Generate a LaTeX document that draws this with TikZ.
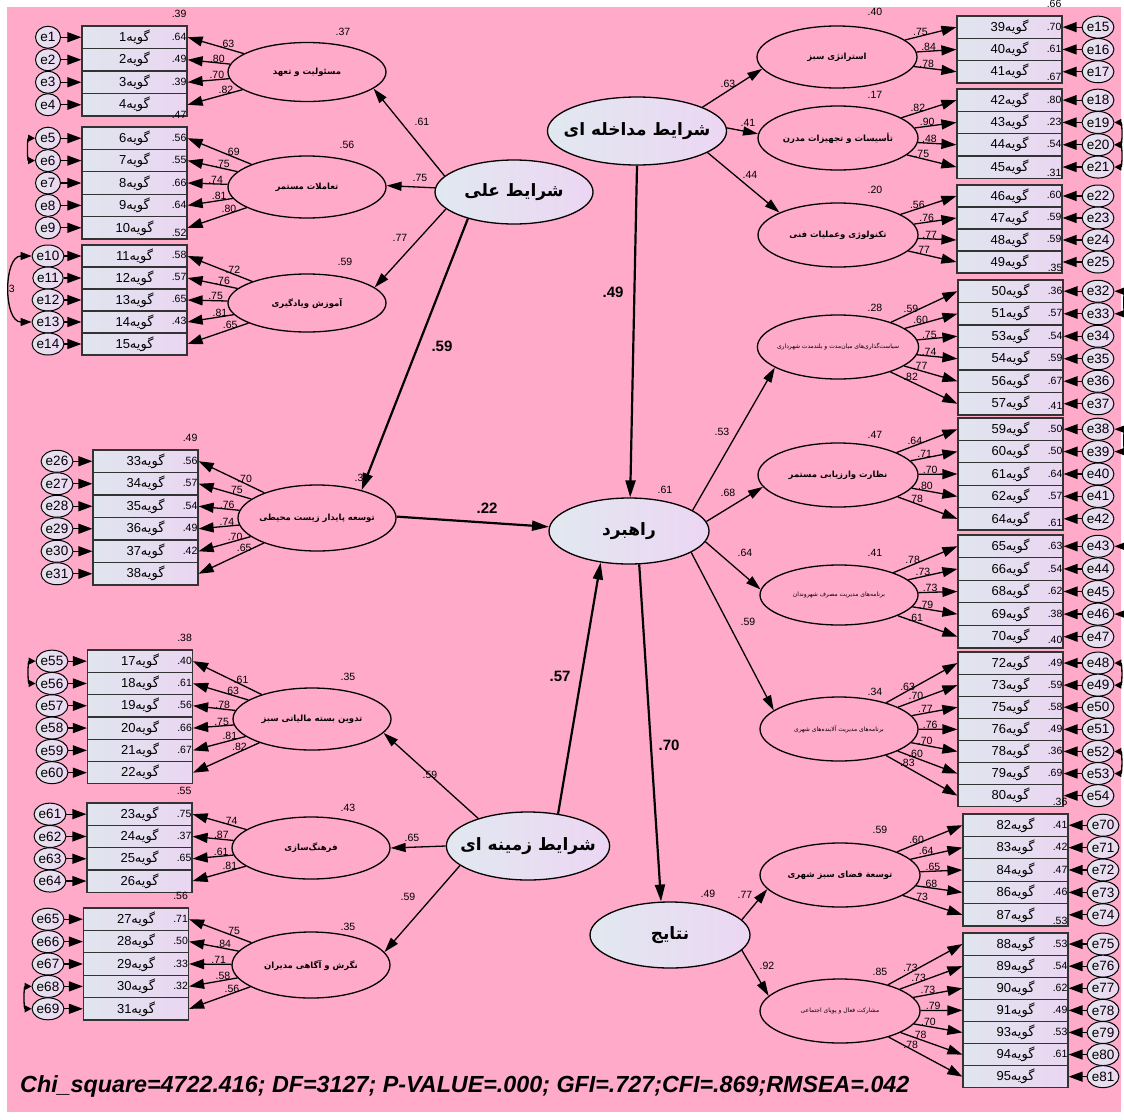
\documentclass[tikz,border=0pt]{standalone}
\usepackage{fontspec}
\setmainfont{Liberation Sans}
\newfontfamily\arabicfont[Script=Arabic]{DejaVu Sans}
\TeXXeTstate=1
\usetikzlibrary{shapes.geometric,arrows.meta}
\definecolor{pinkbg}{RGB}{255,170,201}
\definecolor{boxL}{RGB}{224,229,238}
\definecolor{boxR}{RGB}{234,214,242}
\definecolor{errL}{RGB}{228,228,238}
\definecolor{errR}{RGB}{236,214,242}
\definecolor{mainL}{RGB}{225,232,240}
\definecolor{mainR}{RGB}{236,214,243}
\newcommand\gw[1]{#1{\arabicfont\beginR گویه\endR}}
\newcommand\fa[1]{{\arabicfont\beginR #1\endR}}
\tikzset{
  every node/.style={inner sep=0pt},
  box/.style={draw=black!80, line width=1.2pt, rectangle, minimum width=105pt, minimum height=22.4pt, left color=boxL, right color=boxR, font=\fontsize{13}{15}\selectfont},
  err/.style={draw, ellipse, line width=1pt, minimum width=25pt, minimum height=22pt, left color=errL, right color=errR, font=\fontsize{13.5}{15}\selectfont},
  fac/.style={draw, ellipse, line width=1.3pt, fill=pinkbg, inner sep=-4pt, font=\bfseries\fontsize{8.5}{10}\selectfont},
  facs/.style={draw, ellipse, line width=1.3pt, fill=pinkbg, inner sep=-4pt, font=\fontsize{6}{7}\selectfont},
  mainell/.style={draw, ellipse, line width=1.3pt, inner sep=-10pt, left color=mainL, right color=mainR, font=\bfseries\fontsize{17}{20}\selectfont},
  earr/.style={line width=1.3pt, -{Triangle[length=14pt,width=10pt]}},
  larr/.style={line width=1.3pt, -{Triangle[length=15pt,width=10pt]}},
  parr/.style={line width=1.3pt, -{Triangle[length=15pt,width=9pt]}},
  tarr/.style={line width=2.2pt, -{Triangle[length=17pt,width=10pt]}},
  cov/.style={line width=1.3pt, {Triangle[length=11pt,width=8pt]}-{Triangle[length=11pt,width=8pt]}},
  covs/.style={line width=1.3pt, {Triangle[length=7pt,width=7pt]}-{Triangle[length=7pt,width=7pt]}},
  num/.style={font=\fontsize{10.5}{12}\selectfont},
  bnum/.style={font=\bfseries\fontsize{15}{18}\selectfont},
}
% left group: #1 factor, #2 box centre x, #3 top, #4 box height, #5 error x, #6 list
\newcommand\Lgroup[6]{%
  \foreach \itm/\ee/\rr/\ld [count=\kk] in {#6} {
    \pgfmathsetmacro\yy{#3+(\kk-0.5)*#4}
    \node[box, minimum height=#4pt] (b\itm) at (#2,\yy) {\gw{\itm}};
    \node[err] (e\ee) at (#5,\yy) {e\ee};
    \draw[earr] (e\ee) -- (b\itm);
    \node[num, anchor=base east] at ([xshift=-1pt,yshift=7.5pt]b\itm.north east) {\rr};
    \draw[larr] (#1) -- (b\itm.east) node[pos=0.3, above, num] {\ld};
  }}
\newcommand\Rgroup[6]{%
  \foreach \itm/\ee/\rr/\ld [count=\kk] in {#6} {
    \pgfmathsetmacro\yy{#3+(\kk-0.5)*#4}
    \node[box, minimum height=#4pt] (b\itm) at (#2,\yy) {\gw{\itm}};
    \node[err] (e\ee) at (#5,\yy) {e\ee};
    \draw[earr] (e\ee) -- (b\itm);
    \node[num, anchor=base east] at ([xshift=-1pt,yshift=7.5pt]b\itm.north east) {\rr};
    \draw[larr] (#1) -- (b\itm.west) node[pos=0.3, above, num] {\ld};
  }}
\begin{document}
\begin{tikzpicture}[x=1pt,y=-1pt]
\useasboundingbox (0,0) rectangle (1124,1119);
\clip (0,0) rectangle (1124,1119);
\fill[white] (0,0) rectangle (1124,1119);
\fill[pinkbg] (7,7) rectangle (1121,1112);

% first-order factors
\node[fac, minimum width=158pt, minimum height=59pt] (F1) at (307,72) {\fa{مسئولیت و تعهد}};
\node[fac, minimum width=158pt, minimum height=62pt] (F2) at (307,187) {\fa{تعاملات مستمر}};
\node[fac, minimum width=158pt, minimum height=58pt] (F3) at (307,303) {\fa{آموزش ویادگیری}};
\node[fac, minimum width=158pt, minimum height=66pt] (F4) at (317,518) {\fa{توسعه پایدار زیست محیطی}};
\node[fac, minimum width=158pt, minimum height=62pt] (F5) at (312,719) {\fa{تدوین بسته مالیاتی سبز}};
\node[fac, minimum width=158pt, minimum height=62pt] (F6) at (311,848) {\fa{فرهنگ‌سازی}};
\node[fac, minimum width=158pt, minimum height=66pt] (F7) at (311,965) {\fa{نگرش و آگاهی مدیران}};
\node[fac, minimum width=160pt, minimum height=62pt] (F8) at (837,57) {\fa{استراتژی سبز}};
\node[fac, minimum width=160pt, minimum height=64pt] (F9) at (838,138) {\fa{تأسیسات و تجهیزات مدرن}};
\node[fac, minimum width=160pt, minimum height=64pt] (F10) at (838,235) {\fa{تکنولوژی وعملیات فنی}};
\node[facs, minimum width=160pt, minimum height=64pt] (F11) at (838,347) {\fa{سیاست‌گذاری‌های میان‌مدت و بلندمدت شهرداری}};
\node[fac, minimum width=160pt, minimum height=64pt] (F12) at (838,475) {\fa{نظارت وارزیابی مستمر}};
\node[facs, minimum width=158pt, minimum height=60pt] (F13) at (839,595) {\fa{برنامه‌های مدیریت مصرف شهروندان}};
\node[facs, minimum width=158pt, minimum height=64pt] (F14) at (839,729) {\fa{برنامه‌های مدیریت آلاینده‌های شهری}};
\node[fac, minimum width=160pt, minimum height=64pt] (F15) at (840,875) {\fa{توسعة فضای سبز شهری}};
\node[facs, minimum width=160pt, minimum height=64pt] (F16) at (840,1011) {\fa{مشارکت فعال و پویای اجتماعی}};

% main constructs
\node[mainell, minimum width=158pt, minimum height=64pt] (ali) at (514,192) {\fa{شرایط علی}};
\node[mainell, minimum width=160pt, minimum height=68pt] (M) at (637,131) {\fa{شرایط مداخله ای}};
\node[mainell, minimum width=160pt, minimum height=66pt] (R) at (629,531) {\fa{راهبرد}};
\node[mainell, minimum width=160pt, minimum height=66pt] (N) at (670,935) {\fa{نتایج}};
\node[mainell, minimum width=160pt, minimum height=68pt] (Z) at (528,846) {\fa{شرایط زمینه ای}};

% indicator groups
\Lgroup{F1}{134.5}{26}{22.5}{48}{1/1/.39/.63, 2/2/.64/.80, 3/3/.49/.70, 4/4/.39/.82}
\Lgroup{F2}{134.5}{127}{22.4}{48}{6/5/.47/.69, 7/6/.56/.75, 8/7/.55/.74, 9/8/.66/.81, 10/9/.64/.80}
\Lgroup{F3}{134.5}{245}{22}{48}{11/10/.52/.72, 12/11/.58/.76, 13/12/.57/.75, 14/13/.65/.81, 15/14/.43/.65}
\Lgroup{F4}{145.5}{450}{22.5}{57}{33/26/.49/.70, 34/27/.56/.75, 35/28/.57/.76, 36/29/.54/.74, 37/30/.49/.70, 38/31/.42/.65}
\Lgroup{F5}{140}{650}{22.3}{52}{17/55/.38/.61, 18/56/.40/.63, 19/57/.61/.78, 20/58/.56/.75, 21/59/.66/.81, 22/60/.67/.82}
\Lgroup{F6}{139.5}{803}{22.3}{50}{23/61/.55/.74, 24/62/.75/.87, 25/63/.37/.61, 26/64/.65/.81}
\Lgroup{F7}{136}{908}{22.4}{48}{27/65/.56/.75, 28/66/.71/.84, 29/67/.50/.71, 30/68/.33/.58, 31/69/.32/.56}

\Rgroup{F8}{1009.5}{16}{22.3}{1098}{39/15/.66/.75, 40/16/.70/.84, 41/17/.61/.78}
\Rgroup{F9}{1009.5}{89}{22.3}{1098}{42/18/.67/.82, 43/19/.80/.90, 44/20/.23/.48, 45/21/.54/.75}
\Rgroup{F10}{1009.5}{185}{22}{1098}{46/22/.31/.56, 47/23/.60/.76, 48/24/.59/.77, 49/25/.59/.77}
\Rgroup{F11}{1010.5}{280}{22.5}{1098}{50/32/.35/.59, 51/33/.36/.60, 53/34/.57/.75, 54/35/.54/.74, 56/36/.59/.77, 57/37/.67/.82}
\Rgroup{F12}{1010.5}{418}{22.4}{1098}{59/38/.41/.64, 60/39/.50/.71, 61/40/.50/.70, 62/41/.64/.80, 64/42/.57/.78}
\Rgroup{F13}{1010.5}{535}{22.6}{1098}{65/43/.61/.78, 66/44/.63/.73, 68/45/.54/.73, 69/46/.62/.79, 70/47/.38/.61}
\Rgroup{F14}{1010.5}{652}{22.1}{1098}{72/48/.40/.63, 73/49/.49/.70, 75/50/.59/.77, 76/51/.58/.76, 78/52/.49/.70, 79/53/.36/.60, 80/54/.69/.83}
\Rgroup{F15}{1015.5}{814}{22.4}{1103}{82/70/.36/.60, 83/71/.41/.64, 84/72/.42/.65, 86/73/.47/.68, 87/74/.46/.73}
\Rgroup{F16}{1015.5}{933}{22.1}{1103}{88/75/.53/.73, 89/76/.53/.73, 90/77/.54/.73, 91/78/.62/.79, 93/79/.49/.70, 94/80/.53/.78, 95/81/.61/.78}

% structural paths
\draw[parr] (ali.167) -- (F1.346);
\draw[parr] (ali.177) -- (F2.1);
\draw[parr] (ali.194) -- (F3.13);
\draw[tarr] (ali.210) -- (F4.32);
\draw[tarr] (M.270) -- (R.88);
\draw[parr] (M.20) -- (F8.189);
\draw[parr] (M.2) -- (F9.177);
\draw[parr] (M.343) -- (F10.159);
\draw[tarr] (F4.1) -- (R.177);
\draw[tarr] (Z.47) -- (R.228);
\draw[tarr] (R.287) -- (N.105);
\draw[parr] (R.18) -- (F11.198);
\draw[parr] (R.7) -- (F12.189);
\draw[parr] (R.352) -- (F13.176);
\draw[parr] (R.341) -- (F14.164);
\draw[parr] (N.12) -- (F15.191);
\draw[parr] (N.348) -- (F16.168);
\draw[parr] (Z.151) -- (F5.349);
\draw[parr] (Z.180) -- (F6.0);
\draw[parr] (Z.196) -- (F7.10);

% path coefficients
\node[num] at (422,122) {.61};
\node[num] at (420,178) {.75};
\node[num] at (400,238) {.77};
\node[bnum] at (442,346) {.59};
\node[bnum] at (613,292) {.49};
\node[num] at (728,84) {.63};
\node[num] at (748,123) {.41};
\node[num] at (750,175) {.44};
\node[bnum] at (487,508) {.22};
\node[bnum] at (560,676) {.57};
\node[bnum] at (669,745) {.70};
\node[num] at (722,432) {.53};
\node[num] at (728,493) {.68};
\node[num] at (745,553) {.64};
\node[num] at (748,622) {.59};
\node[num] at (745,895) {.77};
\node[num] at (767,966) {.92};
\node[num] at (430,775) {.59};
\node[num] at (412,838) {.65};
\node[num] at (408,897) {.59};

% squared multiple correlations of latent variables
\node[num] at (665,490) {.61};
\node[num] at (708,894) {.49};
\node[num] at (343,32) {.37};
\node[num] at (347,145) {.56};
\node[num] at (345,262) {.59};
\node[num] at (362,478) {.35};
\node[num] at (348,677) {.35};
\node[num] at (348,808) {.43};
\node[num] at (348,927) {.35};
\node[num] at (875,12) {.40};
\node[num] at (875,95) {.17};
\node[num] at (875,190) {.20};
\node[num] at (875,308) {.28};
\node[num] at (875,435) {.47};
\node[num] at (875,553) {.41};
\node[num] at (875,692) {.34};
\node[num] at (880,830) {.59};
\node[num] at (880,972) {.85};

% error covariances
\draw[cov] (e10.west) to[out=180,in=180,looseness=1.1] (e13.west);
\node[num, anchor=east] at (15,289) {.3};
\draw[covs] (e5.west) to[out=180,in=180,looseness=0.9] (e6.west);
\draw[covs] (e55.west) to[out=180,in=180,looseness=0.9] (e56.west);
\draw[covs] (e68.west) to[out=180,in=180,looseness=0.9] (e69.west);
\draw[covs] (e19.east) to[out=0,in=0,looseness=0.9] (e20.east);
\draw[covs] (e20.east) to[out=0,in=0,looseness=0.9] (e21.east);
\draw[cov] (e32.east) to[out=0,in=0,looseness=1] (e33.east);
\draw[cov] (e38.east) to[out=0,in=0,looseness=1] (e39.east);
\draw[cov] (e43.east) to[out=0,in=0,looseness=0.8] (e46.east);
\draw[covs] (e48.east) to[out=0,in=0,looseness=0.9] (e49.east);
\draw[covs] (e52.east) to[out=0,in=0,looseness=0.9] (e53.east);

% fit indices
\node[anchor=west, font=\bfseries\itshape\fontsize{23.3}{26}\selectfont] (fit) at (20,1086) {Chi\_square=4722.416; DF=3127; P-VALUE=.000; GFI=.727;CFI=.869;RMSEA=.042};
\end{tikzpicture}
\end{document}
